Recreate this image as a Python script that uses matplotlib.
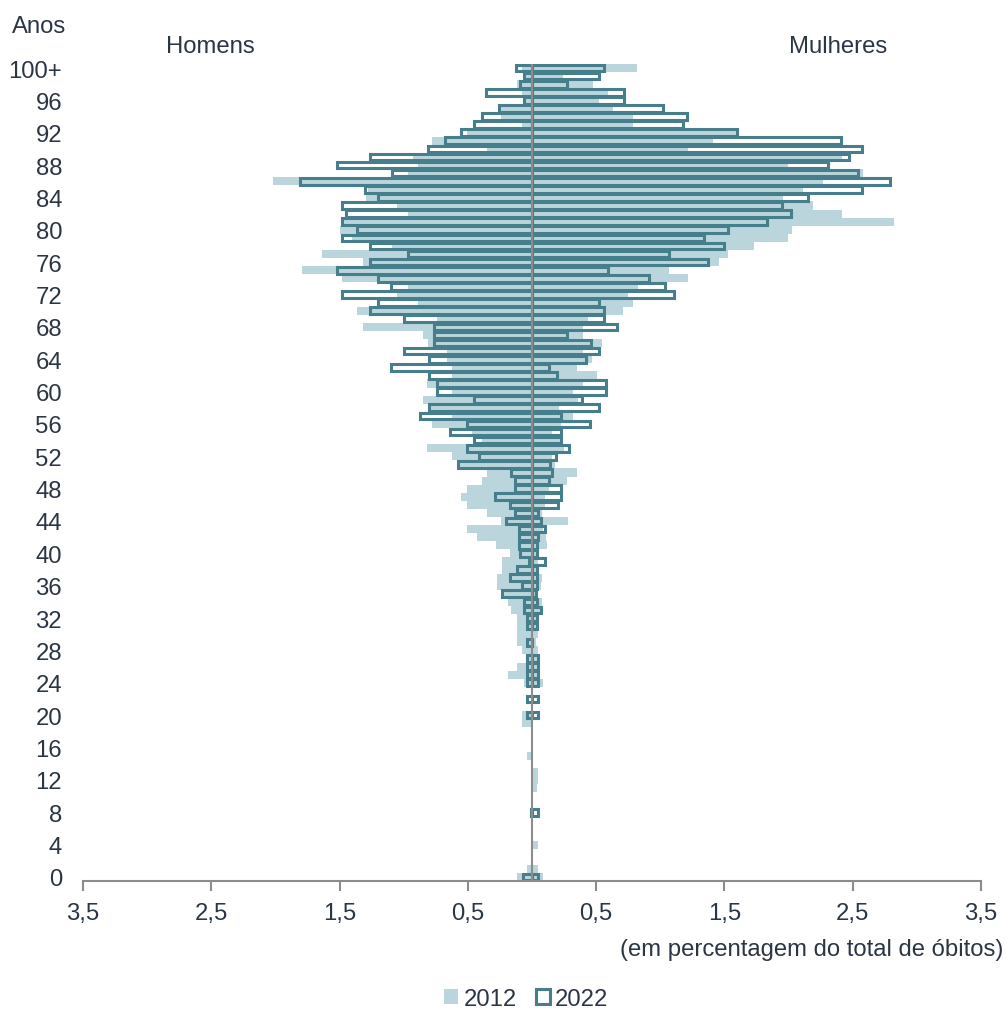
import numpy as np
import matplotlib.pyplot as plt
from matplotlib.patches import Patch

plt.rcParams['font.family'] = ['Liberation Sans', 'DejaVu Sans']

# idades 0 .. 100+ (percentagem do total de óbitos)
idades = np.arange(0, 101)

homens_2012 = [
    0.12, 0.04, 0, 0, 0, 0, 0, 0, 0, 0,                      # 0-9
    0, 0, 0, 0, 0, 0.04, 0, 0, 0, 0.08,                      # 10-19
    0.08, 0, 0, 0, 0.06, 0.19, 0.12, 0.04, 0.08, 0.12,       # 20-29
    0.12, 0.12, 0.12, 0.16, 0.19, 0.22, 0.27, 0.27, 0.23, 0.23,  # 30-39
    0.17, 0.28, 0.43, 0.51, 0.24, 0.35, 0.51, 0.55, 0.51, 0.39,  # 40-49
    0.35, 0.58, 0.62, 0.82, 0.39, 0.47, 0.78, 0.62, 0.80, 0.85,  # 50-59
    0.62, 0.82, 0.62, 0.62, 0.66, 0.66, 0.81, 0.85, 1.32, 0.74,  # 60-69
    1.36, 0.89, 1.05, 0.97, 1.48, 1.79, 1.32, 1.64, 1.09, 1.40,  # 70-79
    1.50, 1.48, 0.97, 1.05, 1.29, 1.28, 2.02, 0.97, 0.89, 0.93,  # 80-89
    0.35, 0.78, 0.51, 0.08, 0.24, 0.24, 0.045, 0.08, 0.115, 0.045,  # 90-99
    0.08,                                                     # 100+
]
mulheres_2012 = [
    0.085, 0.045, 0, 0, 0.045, 0, 0, 0, 0, 0,
    0, 0.04, 0.045, 0.045, 0, 0, 0, 0, 0, 0,
    0, 0, 0, 0, 0.085, 0.04, 0.04, 0.04, 0.05, 0.03,
    0.05, 0.05, 0.05, 0.06, 0.08, 0.05, 0.07, 0.08, 0.04, 0.05,
    0.05, 0.12, 0.11, 0.09, 0.28, 0.075, 0.10, 0.10, 0.13, 0.27,
    0.35, 0.18, 0.16, 0.25, 0.22, 0.16, 0.23, 0.32, 0.21, 0.36,
    0.32, 0.40, 0.51, 0.35, 0.47, 0.40, 0.55, 0.40, 0.40, 0.44,
    0.71, 0.79, 0.75, 0.83, 1.22, 1.07, 1.46, 1.53, 1.73, 2.00,
    2.03, 2.82, 2.42, 2.19, 1.96, 2.11, 2.27, 2.58, 2.00, 2.42,
    1.22, 1.41, 1.59, 0.79, 0.79, 0.63, 0.52, 0.59, 0.48, 0.24,
    0.82,
]
homens_2022 = [
    0.07, 0, 0, 0, 0, 0, 0, 0, 0.01, 0,
    0, 0, 0, 0, 0, 0, 0, 0, 0, 0,
    0.035, 0, 0.035, 0, 0.035, 0.035, 0.035, 0.035, 0, 0.035,
    0, 0.035, 0.04, 0.065, 0.065, 0.23, 0.08, 0.17, 0.12, 0.02,
    0.09, 0.10, 0.10, 0.10, 0.20, 0.13, 0.17, 0.29, 0.13, 0.13,
    0.16, 0.58, 0.41, 0.51, 0.45, 0.64, 0.51, 0.87, 0.80, 0.45,
    0.74, 0.74, 0.80, 1.10, 0.80, 1.00, 0.76, 0.76, 0.76, 1.00,
    1.26, 1.20, 1.48, 1.10, 1.20, 1.52, 1.26, 0.97, 1.26, 1.48,
    1.36, 1.48, 1.45, 1.48, 1.20, 1.30, 1.81, 1.09, 1.52, 1.26,
    0.81, 0.675, 0.55, 0.45, 0.39, 0.26, 0.06, 0.355, 0.09, 0.06,
    0.125,
]
mulheres_2022 = [
    0.045, 0, 0, 0, 0, 0, 0, 0, 0.05, 0,
    0, 0, 0, 0, 0, 0, 0, 0, 0, 0,
    0.045, 0, 0.045, 0, 0.045, 0.045, 0.045, 0.045, 0, 0.0,
    0, 0.04, 0.04, 0.07, 0.04, 0.03, 0.04, 0.04, 0.04, 0.10,
    0.04, 0.04, 0.05, 0.10, 0.07, 0.05, 0.20, 0.23, 0.23, 0.13,
    0.16, 0.14, 0.19, 0.29, 0.23, 0.23, 0.45, 0.23, 0.52, 0.39,
    0.58, 0.58, 0.195, 0.13, 0.42, 0.52, 0.46, 0.27, 0.66, 0.56,
    0.56, 0.52, 1.11, 1.04, 0.91, 0.59, 1.37, 1.07, 1.50, 1.34,
    1.53, 1.83, 2.02, 1.95, 2.15, 2.57, 2.79, 2.54, 2.31, 2.47,
    2.57, 2.41, 1.60, 1.18, 1.21, 1.02, 0.72, 0.72, 0.27, 0.52,
    0.56,
]

ticks_x = [-3.5, -2.5, -1.5, -0.5, 0.5, 1.5, 2.5, 3.5]
rotulos_x = ['3,5', '2,5', '1,5', '0,5', '0,5', '1,5', '2,5', '3,5']
ticks_y = list(range(0, 101, 4))
rotulos_y = [str(t) for t in ticks_y[:-1]] + ['100+']

cor_2012 = '#bad5dc'
cor_2022 = '#467f8b'
cor_texto = '#2b3645'
fs = 17.2

fig = plt.figure(figsize=(10.06, 10.12), dpi=100)
ax = fig.add_axes([0.0825, 0.1285, 0.8925, 0.8073])

h12 = np.array(homens_2012)
m12 = np.array(mulheres_2012)
h22 = np.array(homens_2022)
m22 = np.array(mulheres_2022)

ax.barh(idades, -h12, height=1.0, color=cor_2012, linewidth=0, zorder=1)
ax.barh(idades, m12, height=1.0, color=cor_2012, linewidth=0, zorder=1)

sel = h22 > 0
ax.barh(idades[sel], -h22[sel], height=0.82, facecolor='none',
        edgecolor=cor_2022, linewidth=2.2, zorder=2)
sel = m22 > 0
ax.barh(idades[sel], m22[sel], height=0.82, facecolor='none',
        edgecolor=cor_2022, linewidth=2.2, zorder=2)

ax.axvline(0, color='#8c8c8c', linewidth=1.5, zorder=3)

ax.set_xlim(-3.5, 3.5)
ax.set_ylim(-0.5, 100.5)
ax.set_xticks(ticks_x)
ax.set_xticklabels(rotulos_x)
ax.set_yticks(ticks_y)
ax.set_yticklabels(rotulos_y)

for s in ['top', 'right', 'left']:
    ax.spines[s].set_visible(False)
ax.spines['bottom'].set_color('#8c8c8c')
ax.spines['bottom'].set_linewidth(1.5)
ax.tick_params(axis='x', colors='#8c8c8c', length=7, width=1.5,
               labelcolor=cor_texto, labelsize=fs, pad=8)
ax.tick_params(axis='y', length=0, labelcolor=cor_texto, labelsize=fs, pad=15)

fig.text(0.012, 0.973, 'Anos', fontsize=fs, color=cor_texto, va='center')
fig.text(0.209, 0.954, 'Homens', fontsize=fs, color=cor_texto, ha='center', va='center')
fig.text(0.833, 0.954, 'Mulheres', fontsize=fs, color=cor_texto, ha='center', va='center')
fig.text(0.997, 0.061, '(em percentagem do total de óbitos)', fontsize=fs,
         color=cor_texto, ha='right', va='center')

maos = [Patch(facecolor=cor_2012, edgecolor='none', label='2012'),
        Patch(facecolor='none', edgecolor=cor_2022, linewidth=2.2, label='2022')]
leg = fig.legend(handles=maos, loc='center', bbox_to_anchor=(0.523, 0.012),
                 ncol=2, frameon=False, fontsize=fs, handlelength=0.6,
                 handleheight=0.6, handletextpad=0.2, columnspacing=0.8)
for t in leg.get_texts():
    t.set_color(cor_texto)

fig.savefig('out.png', dpi=100)
